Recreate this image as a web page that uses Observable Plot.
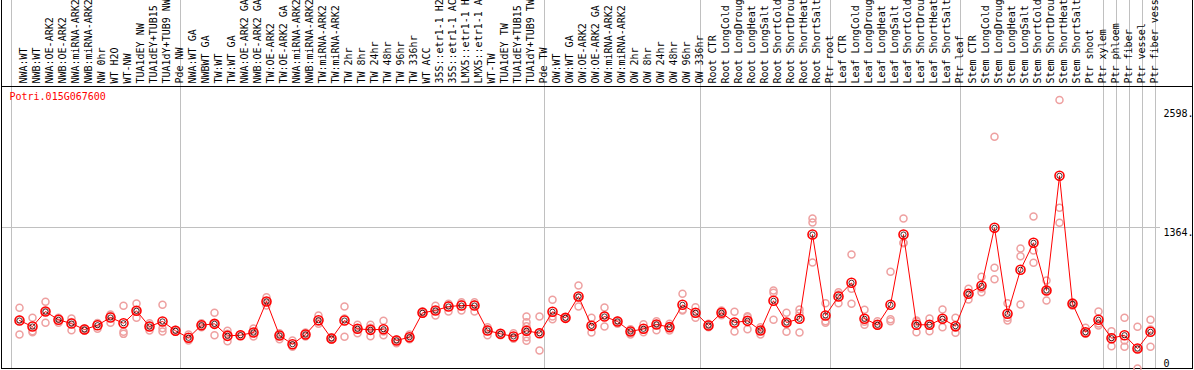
<!DOCTYPE html>
<html><head><meta charset="utf-8">
<script src="https://cdn.jsdelivr.net/npm/d3@7"></script>
<script src="https://cdn.jsdelivr.net/npm/@observablehq/plot@0.6"></script>
<style>html,body{margin:0;padding:0;background:#fff} svg{display:block}</style>
</head><body><div id="chart"></div>
<script>
const title = "Potri.015G067600";

const samples = ["NWA:WT","NWB:WT","NWA:OE-ARK2","NWB:OE-ARK2","NWA:miRNA-ARK2","NWB:miRNA-ARK2","NW 0hr","WT H2O","WT-NW","TUA1dEY NW","TUA1dEY+TUB15 NW","TUA1dY+TUB9 NW","Pde NW",
"NWA:WT GA","NWBWT GA","TW:WT","TW:WT GA","NWA:OE-ARK2 GA","NWB:OE-ARK2 GA","TW:OE-ARK2","TW:OE-ARK2 GA","NWA:miRNA-ARK2 GA","NWB:miRNA-ARK2 GA","TW:miRNA-ARK2","TW:miRNA-ARK2 GA","TW 2hr","TW 8hr","TW 24hr","TW 48hr","TW 96hr","TW 336hr","WT ACC","35S::etr1-1 H2O","35S::etr1-1 ACC","LMX5::etr1-1 H2O","LMX5::etr1-1 ACC","WT-TW","TUA1dEY TW","TUA1dEY+TUB15 TW","TUA1dY+TUB9 TW","Pde TW",
"OW:WT","OW:WT GA","OW:OE-ARK2","OW:OE-ARK2 GA","OW:miRNA-ARK2","OW:miRNA-ARK2 GA","OW 2hr","OW 8hr","OW 24hr","OW 48hr","OW 96hr","OW 336hr",
"Root CTR","Root LongCold","Root LongDrought","Root LongHeat","Root LongSalt","Root ShortCold","Root ShortDrought","Root ShortHeat","Root ShortSalt","Ptr root",
"Leaf CTR","Leaf LongCold","Leaf LongDrought","Leaf LongHeat","Leaf LongSalt","Leaf ShortCold","Leaf ShortDrought","Leaf ShortHeat","Leaf ShortSalt","Ptr leaf",
"Stem CTR","Stem LongCold","Stem LongDrought","Stem LongHeat","Stem LongSalt","Stem ShortCold","Stem ShortDrought","Stem ShortHeat","Stem ShortSalt","Ptr shoot","Ptr xylem",
"Ptr phloem","Ptr fiber","Ptr vessel","Ptr fiber vessel"];

// index of the first sample of each group (plus the end)
const groupStarts = [0, 13, 41, 53, 63, 73, 84, 85, 86, 87, 88];

const means = [464,406,551,471,435,377,419,493,438,558,406,455,365,
297,419,432,316,322,348,648,319,235,329,467,290,464,384,374,380,271,303,539,561,600,609,609,368,336,310,365,341,
549,490,697,413,503,455,358,384,426,400,616,539,
416,539,445,461,368,655,445,481,1296,513,
697,829,481,423,616,1296,423,423,481,409,
723,800,1361,529,955,1216,755,1864,626,351,471,
293,322,193,355];

const rep1 = [587,490,645,490,484,390,440,522,607,629,438,616,374,
329,438,539,365,329,387,690,341,271,348,513,303,600,423,423,461,283,329,554,607,626,641,641,400,341,341,503,503,
665,496,803,490,590,464,380,429,458,432,723,593,
432,561,549,506,400,755,539,571,1451,632,
738,1103,568,458,935,1451,464,484,571,490,
771,887,2241,632,1161,1470,851,2598,641,394,551,
361,490,403,471];

const rep2 = [474,361,551,479,450,377,432,513,355,556,413,390,365,
290,419,435,336,322,348,645,319,225,329,455,290,484,384,394,358,271,297,539,564,612,626,619,377,336,300,448,348,
503,490,687,400,513,458,355,377,423,400,568,532,
416,539,429,496,368,732,442,535,1412,458,
716,771,452,423,477,1219,455,423,471,394,
728,774,974,490,1086,1142,755,1555,626,351,435,
303,271,191,377];

const rep3 = [329,351,442,442,371,368,384,442,335,490,368,358,355,
271,400,322,264,316,310,609,283,210,310,432,278,307,341,312,322,245,283,529,513,551,561,551,322,322,287,409,174,
477,484,600,348,406,432,329,351,371,368,561,490,
400,516,358,380,329,471,355,348,1025,442,
632,626,423,416,458,1212,351,361,400,345,
667,738,864,464,619,1023,658,1409,607,336,416,
216,210,0,210];

// additional replicates: [sample index, value]
const extraReps = [[39, 358], [39, 303], [39, 268]];

const yTicks = [0, 1364, 2598];
const yTickLabels = ["0", "1364.", "2598."];
const yMax = 2728;

const reps = [];
samples.forEach((s, i) => { for (const arr of [rep1, rep2, rep3]) reps.push({i, v: arr[i]}); });
extraReps.forEach(([i, v]) => reps.push({i, v}));
const meanData = means.map((v, i) => ({i, v}));
const tickData = yTicks.map((v, k) => ({v, label: yTickLabels[k]}));

const tickOffsets = [-9, 1, 9.5];

const plot = Plot.plot({
  width: 1194, height: 370,
  marginTop: 86, marginLeft: 1, marginRight: 2, marginBottom: 2,
  style: {fontFamily: "'DejaVu Sans Mono', monospace", fontSize: "10px", background: "#fff"},
  x: {domain: [0, samples.length - 1], range: [19, 1150], axis: null},
  y: {domain: [0, yMax], range: [368, 86], axis: null},
  marks: [
    Plot.ruleX(groupStarts, {x: d => d, dx: -8, stroke: "#c0c0c0", insetTop: -86}),
    Plot.ruleY([yTicks[1]], {stroke: "#c0c0c0", insetRight: 32}),
    Plot.frame({stroke: "black", insetTop: -90}),
    Plot.ruleY([yMax], {stroke: "black"}),
    Plot.text(samples, {x: (d, i) => i, text: d => d, frameAnchor: "top", dy: -3, rotate: -90, textAnchor: "start", fill: "black"}),
    Plot.dot(reps, {x: "i", y: "v", r: 3.5, stroke: "#eea0a0", strokeWidth: 1.5}),
    Plot.line(meanData, {x: "i", y: "v", stroke: "red", strokeWidth: 1}),
    Plot.dot(meanData, {x: "i", y: "v", r: 4.5, stroke: "red", strokeWidth: 1.6}),
    Plot.dot(meanData, {x: "i", y: "v", r: 2.6, stroke: "#200000", strokeWidth: 0.8}),
    Plot.text([title], {frameAnchor: "top-left", dx: 8, dy: 6, lineAnchor: "top", textAnchor: "start", fill: "red"}),
    ...tickData.map((t, k) => Plot.text([t], {x: () => samples.length, y: "v", text: "label", textAnchor: "start", lineAnchor: "top", dy: tickOffsets[k], fill: "black"}))
  ]
});
document.getElementById("chart").appendChild(plot);
</script>
</body></html>
